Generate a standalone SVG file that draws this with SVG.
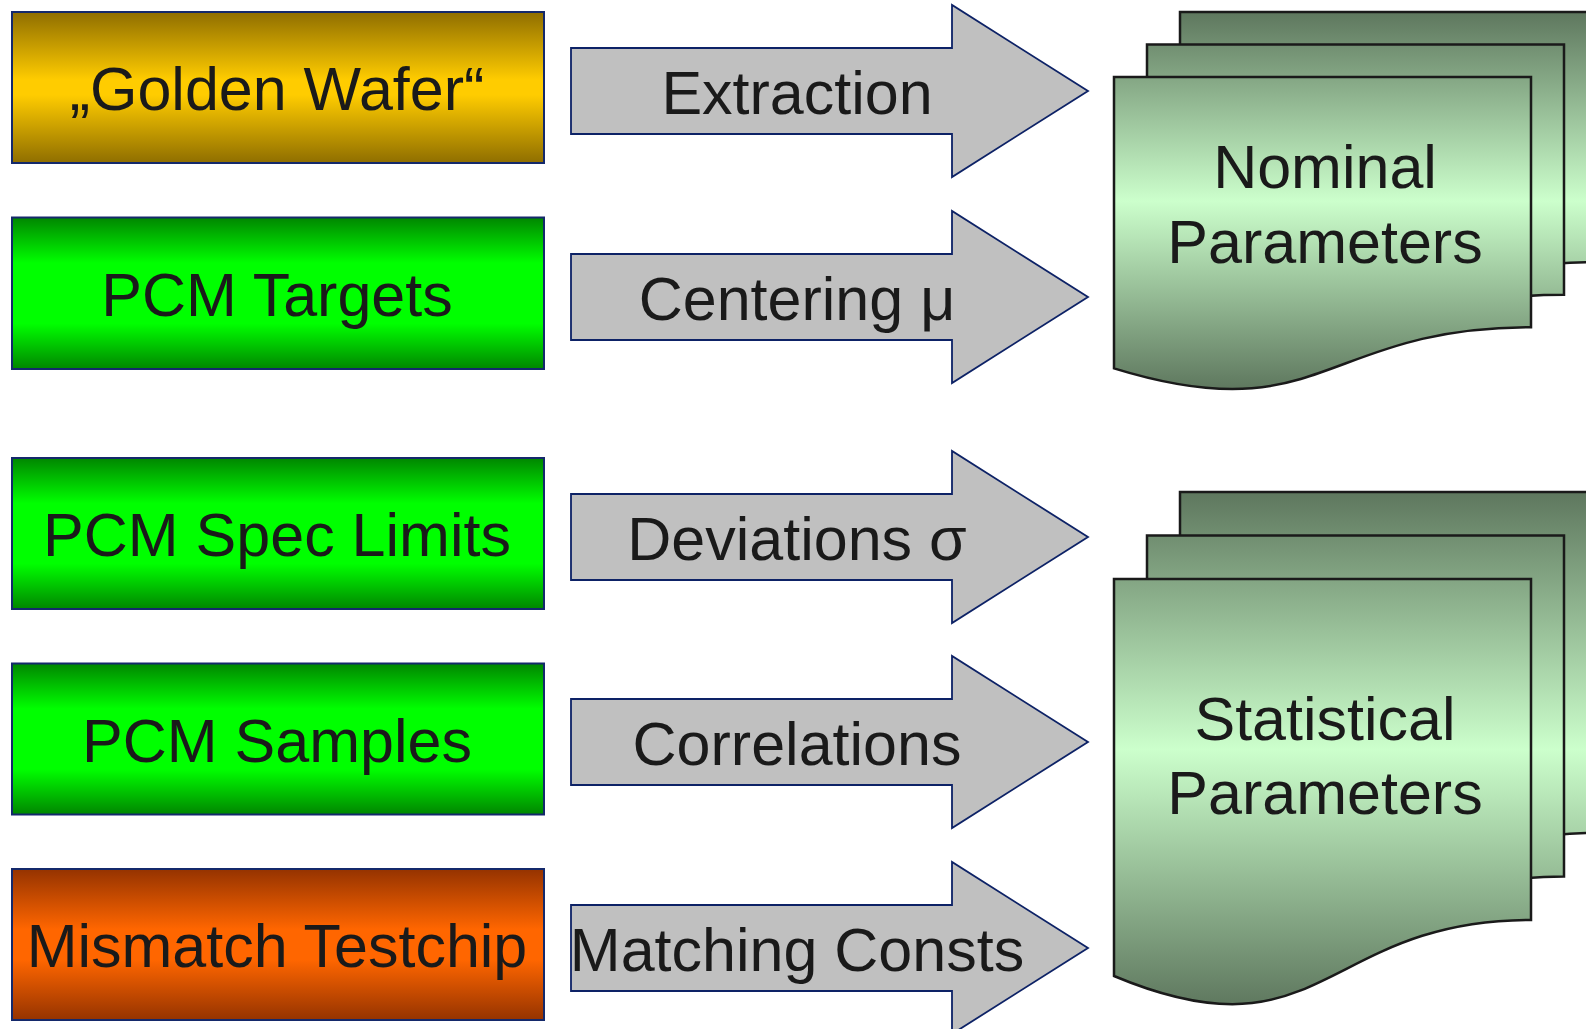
<svg xmlns="http://www.w3.org/2000/svg" width="1586" height="1029" viewBox="0 0 1586 1029">
<style>
.box{stroke:#14296b;stroke-width:2}
.arrow{fill:#c0c0c0;stroke:#0d2266;stroke-width:1.8}
.page{stroke:#1a1a1a;stroke-width:2.5}
text{font-family:"Liberation Sans",Arial,sans-serif;font-size:61px;fill:#1a1a1a;text-anchor:middle}
</style>
<defs>
<linearGradient id="gGold" x1="0" y1="0" x2="0" y2="1">
<stop offset="0" stop-color="#8f6e00"/><stop offset="0.45" stop-color="#ffcc00"/><stop offset="0.55" stop-color="#ffcc00"/><stop offset="1" stop-color="#8f6e00"/>
</linearGradient>
<linearGradient id="gGreen" x1="0" y1="0" x2="0" y2="1">
<stop offset="0" stop-color="#008600"/><stop offset="0.3" stop-color="#00ff00"/><stop offset="0.7" stop-color="#00ff00"/><stop offset="1" stop-color="#008600"/>
</linearGradient>
<linearGradient id="gOrange" x1="0" y1="0" x2="0" y2="1">
<stop offset="0" stop-color="#953300"/><stop offset="0.4" stop-color="#ff6600"/><stop offset="0.6" stop-color="#ff6600"/><stop offset="1" stop-color="#953300"/>
</linearGradient>
<linearGradient id="gDoc1" gradientUnits="userSpaceOnUse" x1="0" y1="12" x2="0" y2="390">
<stop offset="0" stop-color="#5e775e"/><stop offset="0.5" stop-color="#ccffcc"/><stop offset="1" stop-color="#5e775e"/>
</linearGradient>
<linearGradient id="gDoc2" gradientUnits="userSpaceOnUse" x1="0" y1="492" x2="0" y2="1007">
<stop offset="0" stop-color="#5e775e"/><stop offset="0.5" stop-color="#ccffcc"/><stop offset="1" stop-color="#5e775e"/>
</linearGradient>
</defs>

<g id="golden-wafer">
<rect class="box" x="12" y="12" width="532" height="151" fill="url(#gGold)"/>
<text x="277" y="110">„Golden Wafer“</text>
</g>
<g id="pcm-targets">
<rect class="box" x="12" y="217.5" width="532" height="151.5" fill="url(#gGreen)"/>
<text x="277" y="316">PCM Targets</text>
</g>
<g id="pcm-spec-limits">
<rect class="box" x="12" y="458" width="532" height="151" fill="url(#gGreen)"/>
<text x="277" y="556">PCM Spec Limits</text>
</g>
<g id="pcm-samples">
<rect class="box" x="12" y="663.5" width="532" height="151" fill="url(#gGreen)"/>
<text x="277" y="761.5">PCM Samples</text>
</g>
<g id="mismatch-testchip">
<rect class="box" x="12" y="869" width="532" height="151" fill="url(#gOrange)"/>
<text x="277" y="967">Mismatch Testchip</text>
</g>

<g id="connectors">
<g id="arrow-extraction">
<path class="arrow" d="M571,48 H952 V5 L1088,91 L952,177 V134 H571 Z"/>
<text x="797" y="114">Extraction</text>
</g>
<g id="arrow-centering">
<path class="arrow" d="M571,254 H952 V211 L1088,297 L952,383 V340 H571 Z"/>
<text x="797" y="320">Centering μ</text>
</g>
<g id="arrow-deviations">
<path class="arrow" d="M571,494 H952 V451 L1088,537 L952,623 V580 H571 Z"/>
<text x="797" y="560">Deviations σ</text>
</g>
<g id="arrow-correlations">
<path class="arrow" d="M571,699 H952 V656 L1088,742 L952,828 V785 H571 Z"/>
<text x="797" y="765">Correlations</text>
</g>
<g id="arrow-matching">
<path class="arrow" d="M571,905 H952 V862 L1088,948 L952,1034 V991 H571 Z"/>
<text x="797" y="971">Matching Consts</text>
</g>
</g>

<g id="nominal-parameters">
<path class="page" fill="url(#gDoc1)" d="M1180,12 H1597 V262.2 C1388.5,262.2 1388.5,367.7 1180,303.4 Z"/>
<path class="page" fill="url(#gDoc1)" d="M1147,44.5 H1564 V294.7 C1355.5,294.7 1355.5,400.2 1147,335.9 Z"/>
<path class="page" fill="url(#gDoc1)" d="M1114,77 H1531 V327.2 C1322.5,327.2 1322.5,432.7 1114,368.4 Z"/>
<text x="1325" y="188">Nominal</text>
<text x="1325" y="263">Parameters</text>
</g>

<g id="statistical-parameters">
<path class="page" fill="url(#gDoc2)" d="M1180,492 H1597 V832.9 C1388.5,832.9 1388.5,976.5 1180,889 Z"/>
<path class="page" fill="url(#gDoc2)" d="M1147,535.5 H1564 V876.4 C1355.5,876.4 1355.5,1020 1147,932.5 Z"/>
<path class="page" fill="url(#gDoc2)" d="M1114,579 H1531 V919.9 C1322.5,919.9 1322.5,1063.5 1114,976 Z"/>
<text x="1325" y="740">Statistical</text>
<text x="1325" y="814">Parameters</text>
</g>
</svg>
